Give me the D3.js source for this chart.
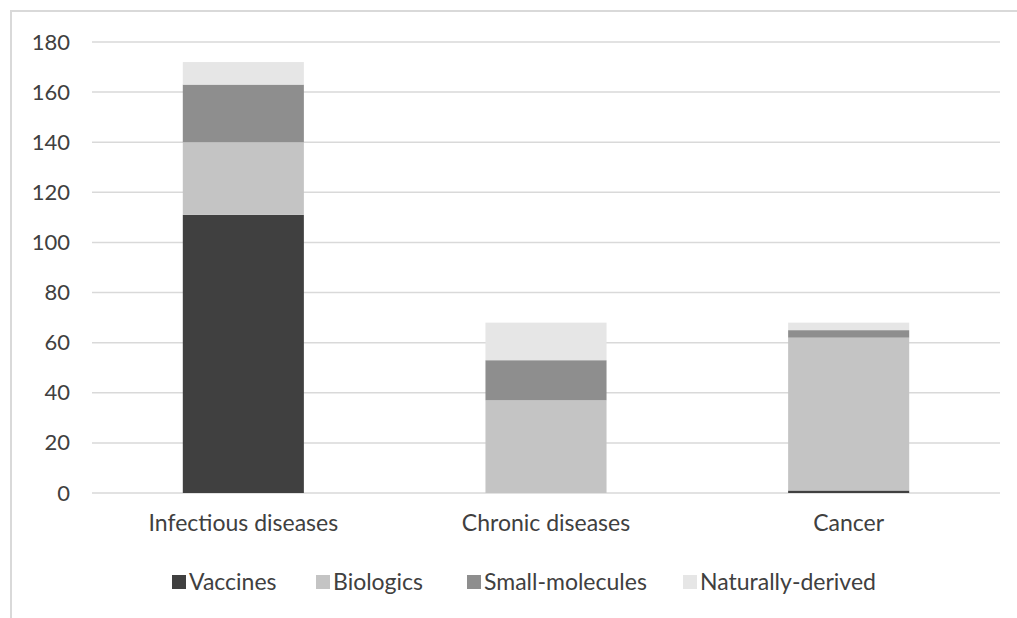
<!DOCTYPE html>
<html><head><meta charset="utf-8">
<script src="https://cdn.jsdelivr.net/npm/d3@7"></script>
<style>body{margin:0;background:#fff;} svg{display:block;} text{font-family:Lato,"Open Sans",sans-serif;fill:#404040;}</style>
</head><body><svg id="c" width="1017" height="618"></svg>
<script>
const categories = ["Infectious diseases", "Chronic diseases", "Cancer"];
const seriesNames = ["Vaccines", "Biologics", "Small-molecules", "Naturally-derived"];
const vaccines = [111, 0, 1];
const biologics = [29, 37, 61];
const smallMolecules = [23, 16, 3];
const naturallyDerived = [9, 15, 3];
const yTicks = [0, 20, 40, 60, 80, 100, 120, 140, 160, 180];
const colors = ["#404040", "#c4c4c4", "#8e8e8e", "#e6e6e6"];

const svg = d3.select("#c");
svg.append("path").attr("d", "M11,618 L11,11 L1017,11").attr("fill", "none").attr("stroke", "#d9d9d9").attr("stroke-width", 2);

const x = d3.scaleBand().domain(categories).range([92, 1000]).paddingInner(0.6).paddingOuter(0.3);
const y = d3.scaleLinear().domain([0, 180]).range([493, 42]);

svg.append("g").selectAll("line").data(yTicks).join("line")
  .attr("x1", 92).attr("x2", 1000).attr("y1", d => y(d)).attr("y2", d => y(d))
  .attr("stroke", "#d9d9d9").attr("stroke-width", 1.5);

const table = categories.map((c, i) => ({cat: c, "Vaccines": vaccines[i], "Biologics": biologics[i], "Small-molecules": smallMolecules[i], "Naturally-derived": naturallyDerived[i]}));
const stack = d3.stack().keys(seriesNames)(table);
const color = d3.scaleOrdinal().domain(seriesNames).range(colors);

svg.append("g").selectAll("g").data(stack).join("g").attr("fill", d => color(d.key))
  .selectAll("rect").data(d => d).join("rect")
  .attr("x", d => x(d.data.cat)).attr("width", x.bandwidth())
  .attr("y", d => y(d[1])).attr("height", d => y(d[0]) - y(d[1]));

const font = "Lato,'Open Sans',sans-serif";
const yAxis = svg.append("g").attr("transform", "translate(70,0)")
  .call(d3.axisLeft(y).tickValues(yTicks).tickSize(0).tickPadding(0));
yAxis.select(".domain").remove();
yAxis.selectAll("text").style("font-size", "22px").style("fill", "#404040").style("font-family", font);

const xAxis = svg.append("g").attr("transform", "translate(0,493)")
  .call(d3.axisBottom(x).tickSize(0).tickPadding(22));
xAxis.select(".domain").remove();
xAxis.selectAll("text").style("font-size", "23px").style("fill", "#404040").style("font-family", font);

const legendX = [172, 316, 467, 683];
const lg = svg.append("g").selectAll("g").data(seriesNames).join("g")
  .attr("transform", (d, i) => `translate(${legendX[i]},582)`);
lg.append("rect").attr("x", 0).attr("y", -7).attr("width", 14).attr("height", 14).attr("fill", d => color(d));
lg.append("text").attr("x", 17).attr("y", 0).attr("dy", "0.35em").style("font-size", "23px").text(d => d);
</script></body></html>
